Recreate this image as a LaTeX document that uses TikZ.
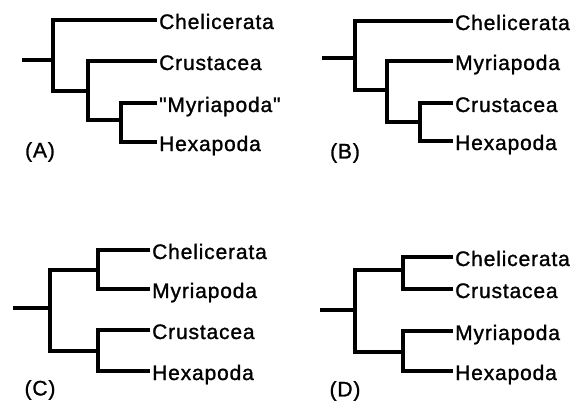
\documentclass[tikz,border=0pt]{standalone}
\usepackage{fontspec}
\setmainfont{Liberation Sans}[FakeBold=1.2,LetterSpace=4,Ligatures=TeXOff]
\begin{document}
\begin{tikzpicture}[x=1pt,y=-1pt,
  branch/.style={line width=4.5pt,line join=miter,line cap=butt},
  leaf/.style={anchor=west,inner xsep=2pt,inner ysep=0pt,text height=18pt,text depth=0pt,
    font=\fontsize{21}{24}\selectfont},
  panel/.style={inner sep=0pt,font=\fontsize{21}{24}\selectfont}]
\useasboundingbox (0,0) rectangle (585,406);

% ---------- (A) ----------
\coordinate (a0) at (22,60);
\coordinate (a1) at (53,60);
\coordinate (a2) at (88,91);
\coordinate (a3) at (121,120);
\node[leaf] (aChel) at (157,20) {Chelicerata};
\node[leaf] (aCrus) at (157,61) {Crustacea};
\node[leaf] (aMyr)  at (157,103) {"Myriapoda"};
\node[leaf] (aHex)  at (157,142) {Hexapoda};
\node[panel] (aLab) at (40,152) {(A)};
\draw[branch] (a0) -- (a1);
\draw[branch] (aChel.west) -| (a1) |- (a2);
\draw[branch] (aCrus.west) -| (a2) |- (a3);
\draw[branch] (aMyr.west) -| (a3) |- (aHex.west);

% ---------- (B) ----------
\coordinate (b0) at (322,58);
\coordinate (b1) at (355,58);
\coordinate (b2) at (387,90);
\coordinate (b3) at (420,122);
\node[leaf] (bChel) at (453,21) {Chelicerata};
\node[leaf] (bMyr)  at (453,61) {Myriapoda};
\node[leaf] (bCrus) at (453,103) {Crustacea};
\node[leaf] (bHex)  at (453,141) {Hexapoda};
\node[panel] (bLab) at (345,153) {(B)};
\draw[branch] (b0) -- (b1);
\draw[branch] (bChel.west) -| (b1) |- (b2);
\draw[branch] (bMyr.west) -| (b2) |- (b3);
\draw[branch] (bCrus.west) -| (b3) |- (bHex.west);

% ---------- (C) ----------
\coordinate (c0) at (13,308);
\coordinate (c1) at (50,308);
\coordinate (c2) at (98,270);
\coordinate (c3) at (98,351);
\node[leaf] (cChel) at (150,250) {Chelicerata};
\node[leaf] (cMyr)  at (150,289) {Myriapoda};
\node[leaf] (cCrus) at (150,330) {Crustacea};
\node[leaf] (cHex)  at (150,371) {Hexapoda};
\node[panel] (cLab) at (40,390) {(C)};
\draw[branch] (c0) -- (c1);
\draw[branch] (c2) -| (c1) |- (c3);
\draw[branch] (cChel.west) -| (c2) |- (cMyr.west);
\draw[branch] (cCrus.west) -| (c3) |- (cHex.west);

% ---------- (D) ----------
\coordinate (d0) at (320,310);
\coordinate (d1) at (355,310);
\coordinate (d2) at (403,270);
\coordinate (d3) at (403,352);
\node[leaf] (dChel) at (453,257) {Chelicerata};
\node[leaf] (dCrus) at (453,289) {Crustacea};
\node[leaf] (dMyr)  at (453,331) {Myriapoda};
\node[leaf] (dHex)  at (453,371) {Hexapoda};
\node[panel] (dLab) at (345,391) {(D)};
\draw[branch] (d0) -- (d1);
\draw[branch] (d2) -| (d1) |- (d3);
\draw[branch] (dChel.west) -| (d2) |- (dCrus.west);
\draw[branch] (dMyr.west) -| (d3) |- (dHex.west);
\end{tikzpicture}
\end{document}
